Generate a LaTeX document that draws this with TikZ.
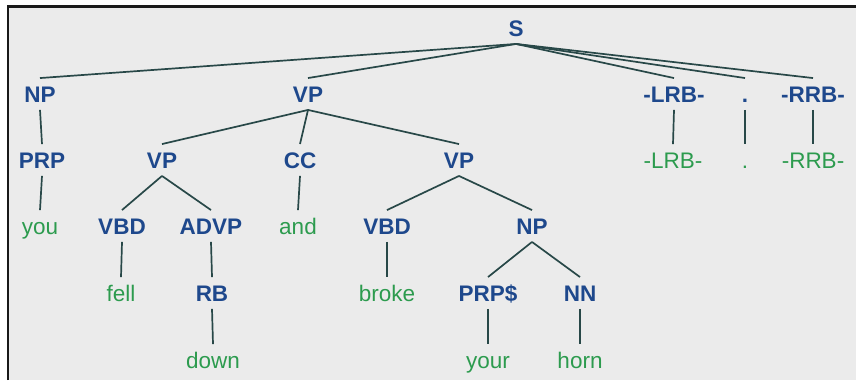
\documentclass[tikz,border=0pt]{standalone}
\usepackage{fontspec}
\setmainfont{Liberation Sans}
\definecolor{tagblue}{RGB}{30,72,140}
\definecolor{wordgreen}{RGB}{44,155,78}
\definecolor{edgecol}{RGB}{40,72,72}
\definecolor{panel}{RGB}{235,235,235}
\definecolor{framecol}{RGB}{25,25,25}
\begin{document}
\begin{tikzpicture}[x=1pt,y=-1pt,
  lab/.style={font=\fontsize{22.5}{24}\selectfont\bfseries, text=tagblue,
    text height=16.5pt, text depth=0pt, inner xsep=0pt, inner ysep=7.5pt},
  word/.style={lab, font=\fontsize{22.5}{24}\selectfont, text=wordgreen},
  branch/.style={draw=edgecol, line width=1.7pt}
]
\useasboundingbox (0,0) rectangle (856,380);
\fill[white] (0,0) rectangle (856,380);
\fill[panel] (8,6.5) rectangle (856,380);
\draw[line width=2.2pt, framecol] (8,380) -- (8,6.5) -- (856,6.5);

% phrase and tag labels
\node[lab] (s)     at (516,28)  {S};
\node[lab] (np1)   at (40,94)   {NP};
\node[lab] (vp1)   at (308,94)  {VP};
\node[lab] (lrb)   at (674,94)  {-LRB-};
\node[lab] (dot)   at (745,94)  {.};
\node[lab] (rrb)   at (813,94)  {-RRB-};
\node[lab] (prp)   at (42,160)  {PRP};
\node[lab] (vp2)   at (162,160) {VP};
\node[lab] (cc)    at (300,160) {CC};
\node[lab] (vp3)   at (459,160) {VP};
\node[lab] (vbd1)  at (122,226) {VBD};
\node[lab] (advp)  at (211,226) {ADVP};
\node[lab] (vbd2)  at (387,226) {VBD};
\node[lab] (np2)   at (532,226) {NP};
\node[lab] (rb)    at (212,293) {RB};
\node[lab] (prps)  at (488,293) {PRP\$};
\node[lab] (nn)    at (580,293) {NN};

% words
\node[word] (wlrb) at (673,160) {-LRB-};
\node[word] (wdot) at (745,160) {.};
\node[word] (wrrb) at (813,160) {-RRB-};
\node[word] (you)  at (40,226)  {you};
\node[word] (and)  at (298,226) {and};
\node[word] (fell) at (121,293) {fell};
\node[word] (broke) at (387,293) {broke};
\node[word] (down) at (213,360) {down};
\node[word] (your) at (488,360) {your};
\node[word] (horn) at (580,360) {horn};

% branches
\foreach \p/\c in {s/np1, s/vp1, s/lrb, s/dot, s/rrb,
                   np1/prp, prp/you,
                   vp1/vp2, vp1/cc, vp1/vp3,
                   vp2/vbd1, vp2/advp, vbd1/fell, advp/rb, rb/down,
                   cc/and,
                   vp3/vbd2, vp3/np2, vbd2/broke,
                   np2/prps, np2/nn, prps/your, nn/horn,
                   lrb/wlrb, dot/wdot, rrb/wrrb}
  \draw[branch] (\p.south) -- (\c.north);
\end{tikzpicture}
\end{document}
